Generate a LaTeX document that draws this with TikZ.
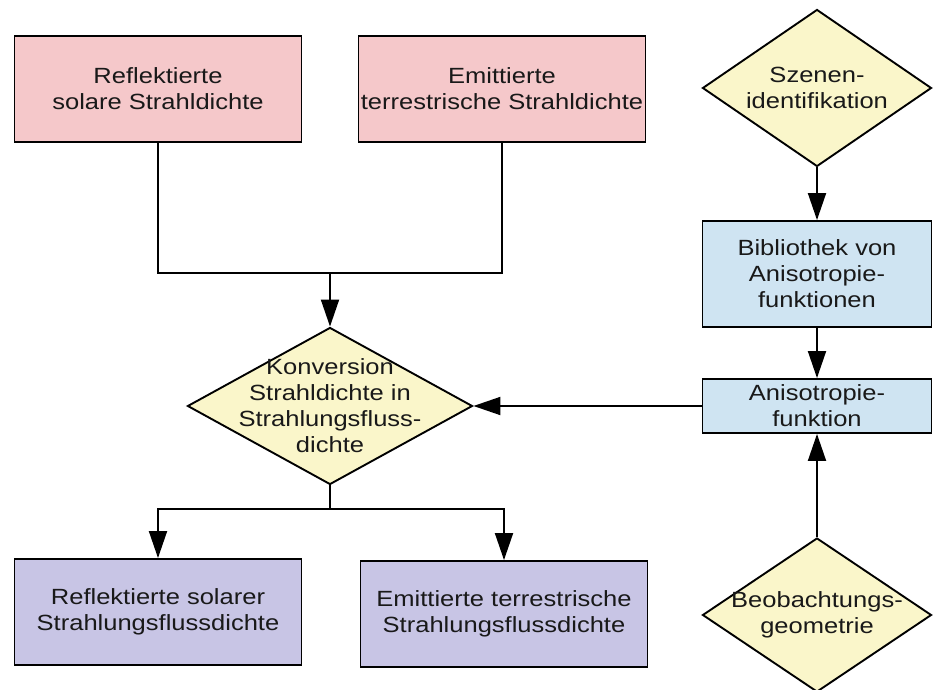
\documentclass[tikz,border=0pt]{standalone}
\usepackage{fontspec}
\setmainfont[FakeStretch=1.16]{Liberation Sans}
\usetikzlibrary{arrows.meta, shapes.geometric, positioning}

\definecolor{pinkfill}{HTML}{F5C8CA}
\definecolor{yellowfill}{HTML}{FAF6CA}
\definecolor{bluefill}{HTML}{CFE4F2}
\definecolor{purplefill}{HTML}{C8C5E5}

\begin{document}
\begin{tikzpicture}[x=1pt, y=-1pt, every node/.style={font=\fontsize{22}{26}\selectfont, align=center, text=black!90}]
   \tikzstyle{rnode}=[rectangle, draw, line width=1.9pt, inner sep=0pt, minimum width=287pt, minimum height=106pt]
   \tikzstyle{dnode}=[diamond, draw, line width=1.9pt, fill=yellowfill, inner xsep=0pt, inner ysep=-25pt, minimum width=229pt, minimum height=157pt]
   \tikzstyle{arr}=[line width=1.9pt, -{Triangle[length=27pt, width=18pt]}]
   \tikzstyle{con}=[line width=1.9pt]

   \useasboundingbox (0, 0) rectangle (935, 690);

   % radiance inputs
   \draw (158, 89) node[rnode, fill=pinkfill] (refl) {Reflektierte\\solare Strahldichte};
   \draw (502, 89) node[rnode, fill=pinkfill] (emit) {Emittierte\\terrestrische Strahldichte};
   % conversion
   \draw (330, 406) node[dnode, shape aspect=1.8, minimum width=285pt] (konv) {Konversion\\Strahldichte in\\Strahlungsfluss-\\dichte};
   % flux outputs
   \draw (158, 612) node[rnode, fill=purplefill] (reflflux) {Reflektierte solarer\\Strahlungsflussdichte};
   \draw (504, 614) node[rnode, fill=purplefill] (emitflux) {Emittierte terrestrische\\Strahlungsflussdichte};
   % anisotropy column
   \draw (817, 88) node[dnode, shape aspect=1.45] (szenen) {Szenen-\\identifikation};
   \draw (817, 274) node[rnode, fill=bluefill, minimum width=229pt] (biblio) {Bibliothek von\\Anisotropie-\\funktionen};
   \draw (817, 406) node[rnode, fill=bluefill, minimum width=229pt, minimum height=54pt] (aniso) {Anisotropie-\\funktion};
   \draw (817, 615) node[dnode, shape aspect=1.45, minimum height=154pt] (beob) {Beobachtungs-\\geometrie};

   % junctions
   \coordinate (merge) at (330, 273);
   \coordinate (split) at (330, 509);

   % radiance to conversion
   \draw[con] (refl.south) |- (merge);
   \draw[con] (emit.south) |- (merge);
   \draw[arr] (merge) -- (konv.north);
   % conversion to flux
   \draw[con] (konv.south) -- (split);
   \draw[arr] (split) -| (reflflux.north);
   \draw[arr] (split) -| (emitflux.north);
   % anisotropy path
   \draw[arr] (szenen.south) -- (biblio.north);
   \draw[arr] (biblio.south) -- (aniso.north);
   \draw[arr] (beob.north) -- (aniso.south);
   \draw[arr] (aniso.west) -- (konv.east);
\end{tikzpicture}
\end{document}
